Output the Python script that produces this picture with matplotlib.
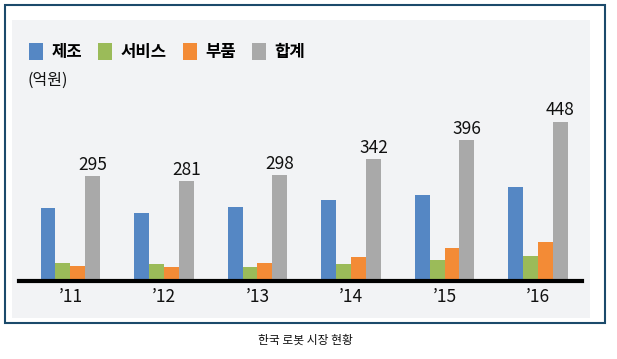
import matplotlib
matplotlib.use("Agg")
import matplotlib.pyplot as plt
from matplotlib.patches import Rectangle
import numpy as np

plt.rcParams['font.family'] = ['Noto Sans CJK KR', 'DejaVu Sans']

years = ["’11", "’12", "’13", "’14", "’15", "’16"]
series_names = ["제조", "서비스", "부품", "합계"]
manufacturing = [205, 192, 207, 227, 241, 264]
service = [50, 49, 40, 47, 59, 71]
parts = [42, 40, 51, 68, 93, 109]
total = [295, 281, 298, 342, 396, 448]
colors = ["#5587c4", "#9bbb59", "#f38b36", "#a9a9a9"]

W, H = 617, 359
fig = plt.figure(figsize=(W / 100, H / 100), dpi=100)

# outer border and inner panel
fig.patches.append(Rectangle((5 / W, 1 - 323 / H), 600 / W, 318 / H,
                             transform=fig.transFigure, facecolor="white",
                             edgecolor="#1b4a6b", lw=1.5, zorder=-10))
fig.patches.append(Rectangle((12 / W, 1 - 318 / H), 578 / W, 298 / H,
                             transform=fig.transFigure, facecolor="#f2f3f5",
                             edgecolor="none", zorder=-9))

ax = fig.add_axes([19 / W, 1 - 281 / H, 563 / W, 178 / H])
ax.set_facecolor("none")
x = np.arange(len(years))
bw = 0.16
data = [manufacturing, service, parts, total]
handles = []
for i, (vals, c, name) in enumerate(zip(data, colors, series_names)):
    b = ax.bar(x + (i - 1.5) * bw, vals, bw, color=c, label=name, zorder=2)
    handles.append(b)
for xi, v in zip(x, total):
    ax.text(xi + 1.5 * bw, v + 6, str(v), ha="center", va="bottom", fontsize=12.5, color="#111111")

ax.set_xlim(-0.55, 5.47)
ax.set_ylim(0, 500)
ax.set_yticks([])
ax.set_xticks(x)
ax.set_xticklabels(years, fontsize=12.5, color="#111111")
ax.tick_params(axis="x", length=0, pad=5)
for s in ["top", "right", "left"]:
    ax.spines[s].set_visible(False)
ax.spines["bottom"].set_linewidth(3)
ax.spines["bottom"].set_color("black")

fig.legend(handles=handles, labels=series_names, loc="upper left",
           bbox_to_anchor=(14 / W, 1 - 28 / H), ncol=4, frameon=False,
           prop={"size": 12, "weight": "bold"}, handlelength=0.85, handleheight=1.2,
           handletextpad=0.5, columnspacing=0.95)

fig.text(27 / W, 1 - 80 / H, "(억원)", fontsize=11.5, va="center", ha="left", color="#111111")
fig.text(305 / W, 1 - 340 / H, "한국 로봇 시장 현황", fontsize=8.5, va="center", ha="center", color="#111111")

fig.savefig("out.png", dpi=100)
